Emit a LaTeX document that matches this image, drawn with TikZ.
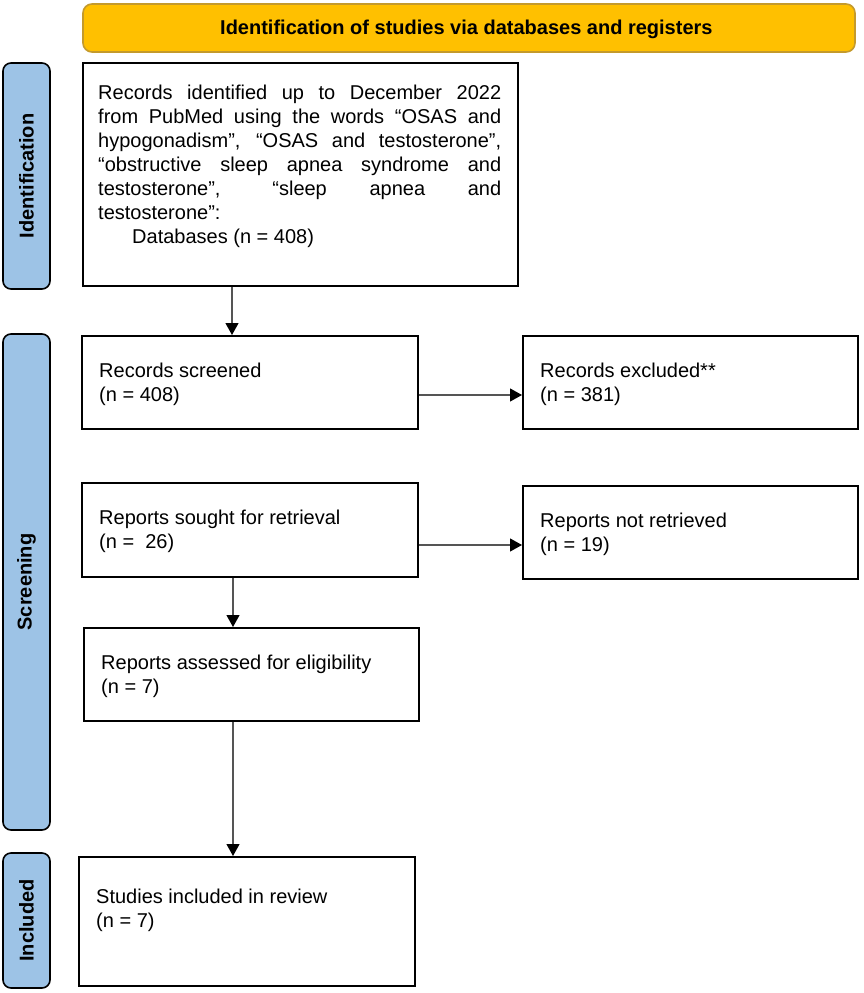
\documentclass[tikz,border=0pt]{standalone}
\usepackage{fontspec}
\setmainfont{Liberation Sans}
\usetikzlibrary{arrows.meta}
\definecolor{gold}{HTML}{FFC000}
\definecolor{goldline}{HTML}{C49A2C}
\definecolor{sideblue}{HTML}{9DC3E6}
\definecolor{arrgray}{HTML}{555555}
\begin{document}
\begin{tikzpicture}[x=1pt,y=-1pt,
  box/.style={draw=black, line width=2pt, inner sep=0pt, fill=white},
  side/.style={draw=black, line width=1.6pt, fill=sideblue, rounded corners=8pt, inner sep=0pt},
  banner/.style={draw=goldline, line width=1.6pt, fill=gold, rounded corners=9pt, inner sep=0pt},
  sidelabel/.style={rotate=90, inner sep=0pt, font=\fontsize{20}{22}\selectfont\bfseries},
  txt/.style={anchor=north west, inner sep=0pt, align=left, font=\fontsize{20}{24}\selectfont},
  arr/.style={draw=arrgray, line width=1.2pt, -{Triangle[width=13pt,length=12pt,color=black]}}
]
\useasboundingbox (0,0) rectangle (863,993);
\fill[white] (0,0) rectangle (863,993);

% banner
\node[banner, minimum width=772pt, minimum height=48pt] (ban) at (469,28) {};
\node[anchor=base west, inner sep=0pt, font=\fontsize{20}{22}\selectfont\bfseries] (bantxt) at (220,34.3) {Identification of studies via databases and registers};

% side bars
\node[side, minimum width=47pt, minimum height=226pt] (sid) at (26.5,176) {};
\node[sidelabel] (sidt) at (sid.center) {Identification};
\node[side, minimum width=47pt, minimum height=496pt] (sscr) at (26.5,582) {};
\node[sidelabel] (sscrt) at (sscr.center) {Screening};
\node[side, minimum width=47pt, minimum height=135pt] (sinc) at (26.5,920.5) {};
\node[sidelabel] (sinct) at (sinc.center) {Included};

% boxes
\node[box, minimum width=435pt, minimum height=223pt] (b1) at (300.5,174.5) {};
\node[box, minimum width=336pt, minimum height=93pt] (b2) at (250,382.5) {};
\node[box, minimum width=335pt, minimum height=93pt] (exc) at (690.5,382.5) {};
\node[box, minimum width=336pt, minimum height=94pt] (sought) at (250,530) {};
\node[box, minimum width=335pt, minimum height=93pt] (notret) at (690.5,532.5) {};
\node[box, minimum width=335pt, minimum height=93pt] (assess) at (251.5,674.5) {};
\node[box, minimum width=336pt, minimum height=129pt] (incl) at (247,921.5) {};

% texts
\node[txt, text width=403pt, align=justify] (t1) at (98,84.5) {\noindent Records identified up to December 2022\linebreak from PubMed using the words “OSAS and\linebreak hypogonadism”, “OSAS and testosterone”,\linebreak “obstructive sleep apnea syndrome and\linebreak testosterone”, “sleep apnea and\linebreak testosterone”:\newline\hspace*{34pt}Databases (n = 408)};
\node[txt] (t2) at (99,362.5) {Records screened\\(n = 408)};
\node[txt] (t3) at (540,362.5) {Records excluded**\\(n = 381)};
\node[txt] (t4) at (99,509.5) {Reports sought for retrieval\\(n = \ 26)};
\node[txt] (t5) at (540,512.5) {Reports not retrieved\\(n = 19)};
\node[txt] (t6) at (101,654.5) {Reports assessed for eligibility\\(n = 7)};
\node[txt] (t7) at (96,888.5) {Studies included in review\\(n = 7)};

% connector coordinates
\coordinate (vx1) at (232,0);
\coordinate (vx2) at (233,0);
\coordinate (hy1) at (0,395);
\coordinate (hy2) at (0,545);

% arrows
\draw[arr] (b1.south -| vx1) -- (b2.north -| vx1);
\draw[arr] (b2.east |- hy1) -- (exc.west |- hy1);
\draw[arr] (sought.south -| vx2) -- (assess.north -| vx2);
\draw[arr] (sought.east |- hy2) -- (notret.west |- hy2);
\draw[arr] (assess.south -| vx2) -- (incl.north -| vx2);
\end{tikzpicture}
\end{document}
